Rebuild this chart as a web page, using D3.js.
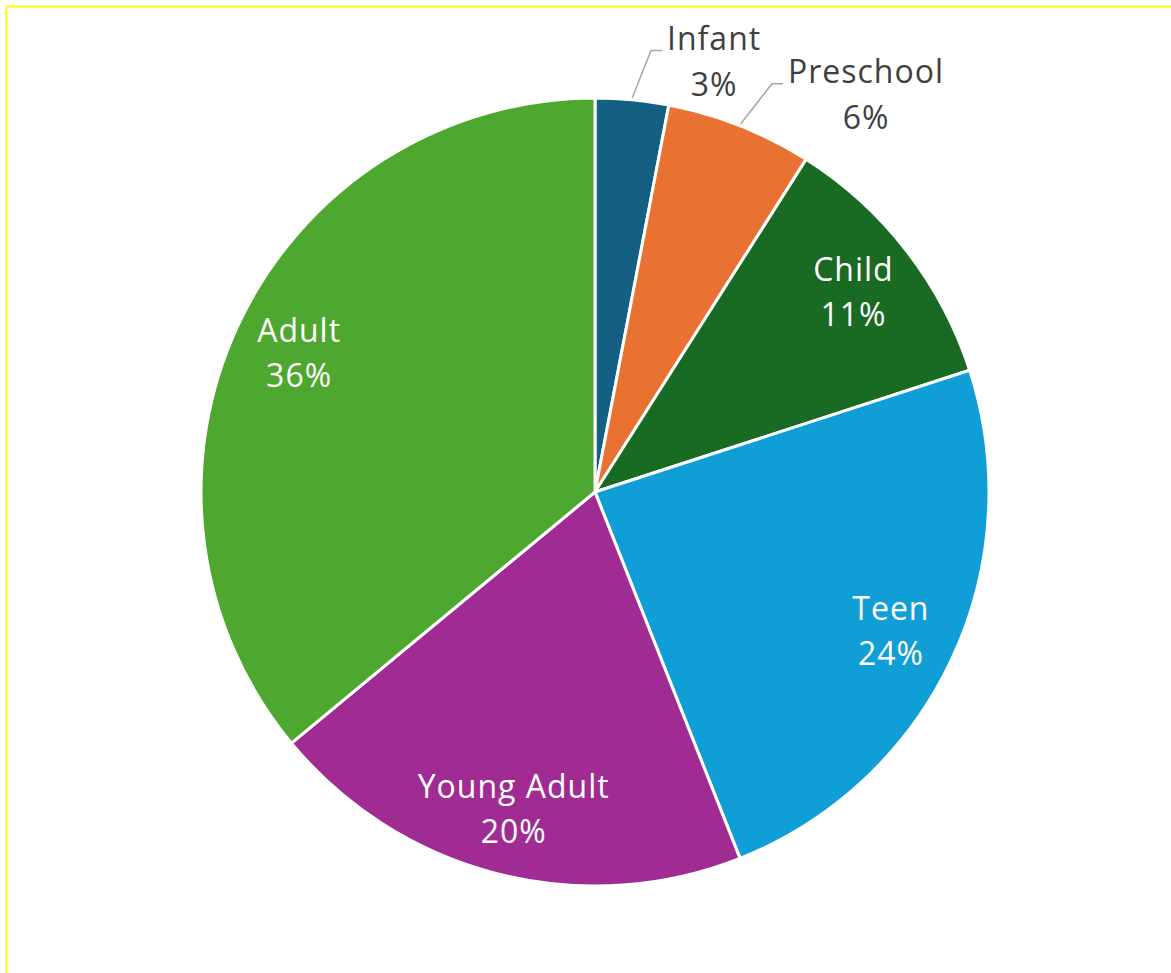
<!DOCTYPE html>
<html>
<head>
<meta charset="utf-8">
<script src="https://cdn.jsdelivr.net/npm/d3@7"></script>
<style>
  html, body { margin: 0; padding: 0; background: #ffffff; }
  svg { display: block; }
</style>
</head>
<body>
<svg id="chart" width="1171" height="973"></svg>
<script>
// Age groups and their share of the total (percent)
const categories = ["Infant", "Preschool", "Child", "Teen", "Young Adult", "Adult"];
const shares = [3, 6, 11, 24, 20, 36];
const colors = ["#156082", "#E97132", "#196B24", "#0F9ED5", "#A02B93", "#4EA72E"];
// Small slices get their label outside the pie with a leader line
const outsideLabels = ["Infant", "Preschool"];

const width = 1171, height = 973;
const cx = 595, cy = 492, radius = 394;
const fontFamily = "'Open Sans', 'Noto Sans', sans-serif";
const fontSize = 32;
const letterSpacing = 1;

const svg = d3.select("#chart");

// Frame lines along the top and left edges
svg.append("line")
  .attr("x1", 6.5).attr("y1", 6.5).attr("x2", width).attr("y2", 6.5)
  .attr("stroke", "#FFFF00").attr("stroke-width", 2);
svg.append("line")
  .attr("x1", 6.5).attr("y1", 6.5).attr("x2", 6.5).attr("y2", height)
  .attr("stroke", "#FFFF00").attr("stroke-width", 2);

const data = categories.map((c, i) => ({ name: c, value: shares[i], color: colors[i] }));

const pie = d3.pie().value(d => d.value).sort(null);
const arcs = pie(data);

const arc = d3.arc().innerRadius(0).outerRadius(radius);
const labelArc = d3.arc().innerRadius(radius * 0.83).outerRadius(radius * 0.83);

const g = svg.append("g").attr("transform", `translate(${cx},${cy})`);

g.selectAll("path.slice")
  .data(arcs)
  .join("path")
  .attr("class", "slice")
  .attr("d", arc)
  .attr("fill", d => d.data.color)
  .attr("stroke", "#ffffff")
  .attr("stroke-width", 3)
  .attr("stroke-linejoin", "round");

// Labels inside the larger slices
const inside = arcs.filter(d => !outsideLabels.includes(d.data.name));
const insideText = g.selectAll("text.inside")
  .data(inside)
  .join("text")
  .attr("class", "inside")
  .attr("transform", d => `translate(${labelArc.centroid(d)})`)
  .attr("text-anchor", "middle")
  .attr("font-family", fontFamily)
  .attr("font-size", fontSize)
  .attr("letter-spacing", letterSpacing)
  .attr("fill", "#ffffff");
insideText.append("tspan").attr("x", 0).attr("y", -11).text(d => d.data.name);
insideText.append("tspan").attr("x", 0).attr("y", 34).text(d => d.value + "%");

// Labels outside the small slices, joined to the slice by a leader line
const outside = arcs.filter(d => outsideLabels.includes(d.data.name));
const polar = (r, a) => [r * Math.sin(a), -r * Math.cos(a)];

outside.forEach(d => {
  const mid = (d.startAngle + d.endAngle) / 2;
  const start = polar(radius + 2, mid);
  const elbow = polar(radius + 51, mid + 0.032);
  const end = [elbow[0] + 11, elbow[1]];

  g.append("polyline")
    .attr("points", [start, elbow, end].map(p => p.join(",")).join(" "))
    .attr("fill", "none")
    .attr("stroke", "#A6A6A6")
    .attr("stroke-width", 1.5);

  const t = g.append("text")
    .attr("font-family", fontFamily)
    .attr("font-size", fontSize)
    .attr("letter-spacing", letterSpacing)
    .attr("fill", "#404040")
    .attr("text-anchor", "middle");
  const l1 = t.append("tspan").attr("y", elbow[1] - 1).text(d.data.name);
  const l2 = t.append("tspan").attr("y", elbow[1] + 45).text(d.value + "%");
  const w = l1.node().getComputedTextLength();
  const xc = end[0] + 5 + w / 2;
  l1.attr("x", xc);
  l2.attr("x", xc);
});
</script>
</body>
</html>
